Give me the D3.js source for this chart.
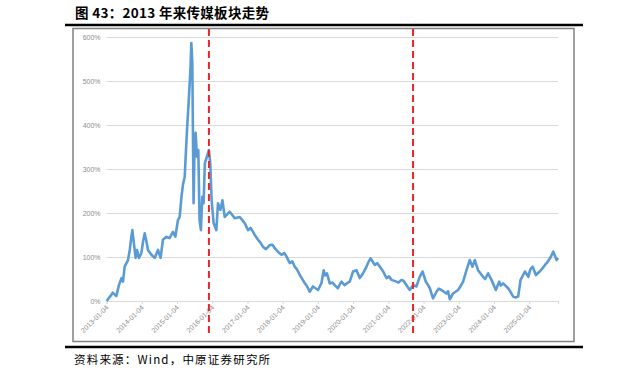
<!DOCTYPE html>
<html>
<head>
<meta charset="utf-8">
<script src="https://cdn.jsdelivr.net/npm/d3@7"></script>
<style>
  body { margin: 0; background: #fff; }
  svg { display: block; }
</style>
</head>
<body>
<div id="chart"></div>
<script>
// 传媒板块累计涨跌幅 (%)
const dates = [
  "2013-01-04","2013-02-22","2013-03-08","2013-04-15","2013-05-12","2013-06-07","2013-06-23","2013-07-10",
  "2013-08-14","2013-09-01","2013-09-18","2013-09-28","2013-10-12","2013-11-01","2013-11-15","2013-12-06",
  "2013-12-31","2014-01-17","2014-02-03","2014-02-21","2014-03-09","2014-04-13","2014-05-18","2014-06-21",
  "2014-07-18","2014-08-11","2014-09-16","2014-10-19","2014-11-23","2014-12-18","2015-01-14","2015-02-01",
  "2015-02-18","2015-03-07","2015-03-25","2015-04-04","2015-04-18","2015-05-08","2015-05-23","2015-06-02",
  "2015-06-12","2015-06-18","2015-06-25","2015-07-05","2015-07-16","2015-07-30","2015-08-13","2015-08-26",
  "2015-09-09","2015-09-23","2015-10-07","2015-10-20","2015-11-10","2015-12-01","2015-12-15","2015-12-29",
  "2016-01-19","2016-02-16","2016-03-04","2016-03-29","2016-04-19","2016-05-13","2016-07-04","2016-08-25",
  "2016-10-16","2016-12-06","2017-01-10","2017-02-05","2017-03-03","2017-03-20","2017-04-24","2017-05-20",
  "2017-06-14","2017-07-15","2017-08-23","2017-09-20","2017-10-14","2017-11-15","2017-12-23","2018-01-20",
  "2018-02-13","2018-03-19","2018-04-15","2018-05-09","2018-06-01","2018-06-30","2018-07-20","2018-08-20",
  "2018-09-15","2018-10-11","2018-11-13","2019-01-06","2019-02-10","2019-03-05","2019-03-20","2019-04-08",
  "2019-05-07","2019-06-05","2019-06-27","2019-07-31","2019-08-15","2019-09-05","2019-10-08","2019-10-30",
  "2019-11-30","2020-01-04","2020-02-08","2020-03-14","2020-04-17","2020-05-22","2020-06-10","2020-07-03",
  "2020-08-17","2020-09-10","2020-10-08","2020-11-11","2020-12-16","2021-01-10","2021-02-06","2021-03-29",
  "2021-04-20","2021-05-20","2021-06-10","2021-07-11","2021-08-14","2021-09-17","2021-10-22","2021-11-25",
  "2021-12-24","2022-01-27","2022-02-15","2022-03-10","2022-04-12","2022-05-18","2022-06-10","2022-07-08",
  "2022-08-29","2022-09-15","2022-10-03","2022-11-06","2022-12-28","2023-01-20","2023-02-18","2023-03-25",
  "2023-04-28","2023-05-26","2023-06-19","2023-07-23","2023-08-20","2023-09-13","2023-10-05","2023-11-04",
  "2023-12-09","2024-01-23","2024-02-27","2024-03-15","2024-04-08","2024-05-30","2024-06-20","2024-07-21",
  "2024-08-15","2024-09-11","2024-10-06","2024-11-20","2024-12-25","2025-01-15","2025-02-08","2025-03-14",
  "2025-04-23","2025-05-20","2025-06-16","2025-07-10","2025-08-07","2025-09-10","2025-10-15","2025-10-29"
];
const values = [
  0,14,19,11,36,52,44,78,
  93,116,146,161,135,98,116,98,
  109,135,154,135,116,105,98,116,
  98,139,146,143,157,146,184,191,
  234,265,282,328,389,464,525,586,
  541,389,222,351,382,328,343,184,
  161,237,222,313,328,343,313,229,
  177,161,222,207,229,191,203,188,
  191,177,161,166,157,150,139,132,
  123,118,127,128,120,112,105,109,
  101,86,90,78,72,59,52,41,
  33,21,33,25,41,70,58,63,
  40,42,36,29,36,44,36,40,
  44,67,70,52,63,78,88,97,
  82,86,78,67,52,56,48,44,
  42,48,46,36,25,36,33,55,
  67,44,38,29,6,21,28,25,
  17,22,4,17,25,33,44,70,
  93,78,93,70,62,55,50,63,
  48,25,44,35,40,29,22,10,
  8,10,48,67,55,72,78,59,
  67,74,82,88,97,112,93,98
];
const tickDates = ["2013-01-04","2014-01-04","2015-01-04","2016-01-04","2017-01-04","2018-01-04","2019-01-04",
  "2020-01-04","2021-01-04","2022-01-04","2023-01-04","2024-01-04","2025-01-04"];
const yTicks = [0, 100, 200, 300, 400, 500, 600];
const markerDates = ["2015-12-01", "2021-09-17"];

const title = "图 43：2013 年来传媒板块走势";
const source = "资料来源：Wind，中原证券研究所";

const width = 642, height = 370;
const parse = d3.timeParse("%Y-%m-%d");
const data = dates.map((d, i) => ({ date: parse(d), value: values[i] }));

const svg = d3.select("#chart").append("svg")
  .attr("width", width)
  .attr("height", height);

// title and rules
svg.append("text")
  .attr("x", 75).attr("y", 17.5)
  .attr("font-family", "'Noto Sans CJK SC', 'Liberation Sans', sans-serif")
  .attr("font-weight", "bold")
  .attr("font-size", 13.5)
  .attr("letter-spacing", 0.3)
  .attr("fill", "#000")
  .text(title);

svg.append("line").attr("x1", 65).attr("x2", 583).attr("y1", 25).attr("y2", 25)
  .attr("stroke", "#000").attr("stroke-width", 2.5);
svg.append("line").attr("x1", 65).attr("x2", 583).attr("y1", 347).attr("y2", 347)
  .attr("stroke", "#000").attr("stroke-width", 2.5);

svg.append("rect")
  .attr("x", 73).attr("y", 28.5).attr("width", 501).attr("height", 313)
  .attr("fill", "none").attr("stroke", "#808080").attr("stroke-width", 1.5);

svg.append("text")
  .attr("x", 74).attr("y", 364)
  .attr("font-family", "'Noto Sans CJK SC', 'Liberation Sans', sans-serif")
  .attr("font-size", 11.5)
  .attr("letter-spacing", 1.2)
  .attr("fill", "#000")
  .text(source);

// scales
const x = d3.scaleTime()
  .domain([parse("2013-01-04"), parse("2025-10-29")])
  .range([106.6, 558]);
const y = d3.scaleLinear().domain([0, 600]).range([301, 37]);

// gridlines + y labels
const yAxis = d3.axisLeft(y)
  .tickValues(yTicks)
  .tickSize(-(558 - 106.6))
  .tickPadding(6)
  .tickFormat(d => d + "%");
svg.append("g")
  .attr("transform", "translate(106.6,0)")
  .call(yAxis)
  .call(g => g.select(".domain").remove())
  .call(g => g.selectAll(".tick line").attr("stroke", "#d9d9d9"))
  .call(g => g.selectAll(".tick text")
    .attr("fill", "#8c8c8c")
    .attr("font-size", 7)
    .attr("font-family", "'Liberation Sans', Arial, sans-serif"));

// x axis
const xAxis = d3.axisBottom(x)
  .tickValues(tickDates.map(parse))
  .tickSize(3)
  .tickFormat(d3.timeFormat("%Y-%m-%d"));
svg.append("g")
  .attr("transform", "translate(0,301)")
  .call(xAxis)
  .call(g => g.select(".domain").attr("stroke", "#d9d9d9"))
  .call(g => g.selectAll(".tick line").attr("stroke", "#d9d9d9"))
  .call(g => g.selectAll(".tick text")
    .attr("fill", "#8c8c8c")
    .attr("font-size", 7)
    .attr("font-family", "'Liberation Sans', Arial, sans-serif")
    .attr("text-anchor", "end")
    .attr("dy", 0)
    .attr("y", 0)
    .attr("transform", "translate(2,7) rotate(-45)"));

// series
const line = d3.line()
  .x(d => x(d.date))
  .y(d => y(d.value));
svg.append("path")
  .datum(data)
  .attr("fill", "none")
  .attr("stroke", "#5b9bd5")
  .attr("stroke-width", 2.6)
  .attr("stroke-linejoin", "round")
  .attr("d", line);

// red dashed markers
svg.selectAll(".marker")
  .data(markerDates.map(parse))
  .join("line")
  .attr("class", "marker")
  .attr("x1", d => x(d)).attr("x2", d => x(d))
  .attr("y1", 29).attr("y2", 335)
  .attr("stroke", "#e8262a")
  .attr("stroke-width", 2)
  .attr("stroke-dasharray", "7,4");
</script>
</body>
</html>
